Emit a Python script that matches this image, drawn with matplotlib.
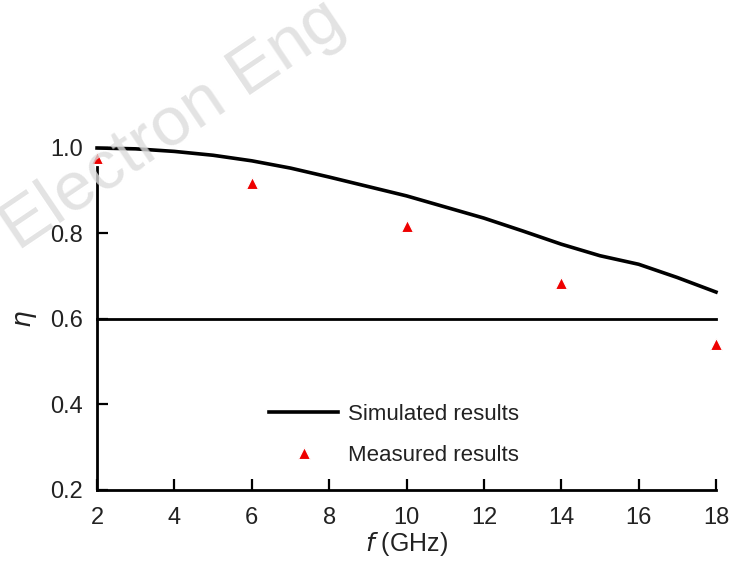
"""Efficiency vs frequency: simulated curve and measured points."""

import numpy as np
import matplotlib.pyplot as plt

plt.rcParams['font.family'] = ['Liberation Sans', 'DejaVu Sans']

# simulated efficiency at each GHz
sim_f = [2, 3, 4, 5, 6, 7, 8, 9, 10, 11, 12, 13, 14, 15, 16, 17, 18]
sim_eta = [1.000, 0.998, 0.992, 0.983, 0.970, 0.953, 0.932, 0.910, 0.888,
           0.862, 0.836, 0.806, 0.775, 0.748, 0.728, 0.697, 0.663]

# measured points
meas_f = [2, 6, 10, 14, 18]
meas_eta = [0.977, 0.918, 0.818, 0.684, 0.542]

# reference level
ref_level = 0.6

xticks = [2, 4, 6, 8, 10, 12, 14, 16, 18]
yticks = [0.2, 0.4, 0.6, 0.8, 1.0]

fig = plt.figure(figsize=(7.47, 5.61), dpi=100)
ax = fig.add_axes([0.1299, 0.1266, 0.8286, 0.6096])

ax.plot(sim_f, sim_eta, color='black', lw=2.6, label='Simulated results',
        clip_on=False, zorder=3)
ax.plot([sim_f[0], sim_f[-1]], [ref_level, ref_level], color='black', lw=2.0,
        clip_on=False)
ax.plot(meas_f, meas_eta, '^', color='#ee0000', ms=9, mec='white', mew=0.8,
        label='Measured results', clip_on=False, zorder=4)

ax.set_xlim(2, 18)
ax.set_ylim(0.2, 1.0)
ax.set_xticks(xticks)
ax.set_yticks(yticks)
ax.set_yticklabels(['%.1f' % v for v in yticks])

for s in ['top', 'right']:
    ax.spines[s].set_visible(False)
ax.spines['left'].set_linewidth(2)
ax.spines['bottom'].set_linewidth(2)
ax.spines['left'].set_bounds(0.2, 0.955)

ax.tick_params(axis='both', direction='in', length=8, width=1.6,
               labelsize=17, colors='black', labelcolor='#222222')
ax.tick_params(axis='y', pad=10)
ax.tick_params(axis='x', pad=12)

ax.set_xlabel(r'$\it{f}$ (GHz)', fontsize=18, color='#222222', labelpad=1)
ax.set_ylabel(r'$\it{\eta}$', fontsize=19, color='#222222', labelpad=8)

ax.legend(loc='center left', bbox_to_anchor=(0.246, 0.162), frameon=False,
          fontsize=16, handlelength=3.1, handletextpad=0.45, labelspacing=0.9,
          borderpad=0.4, labelcolor='#222222')

# watermark
fig.text(0.232, 0.777, 'Electron Eng', fontsize=50, color='#dcdcdc',
         rotation=34, ha='center', va='center', alpha=0.8, zorder=0)

fig.savefig('out.png', dpi=100)
